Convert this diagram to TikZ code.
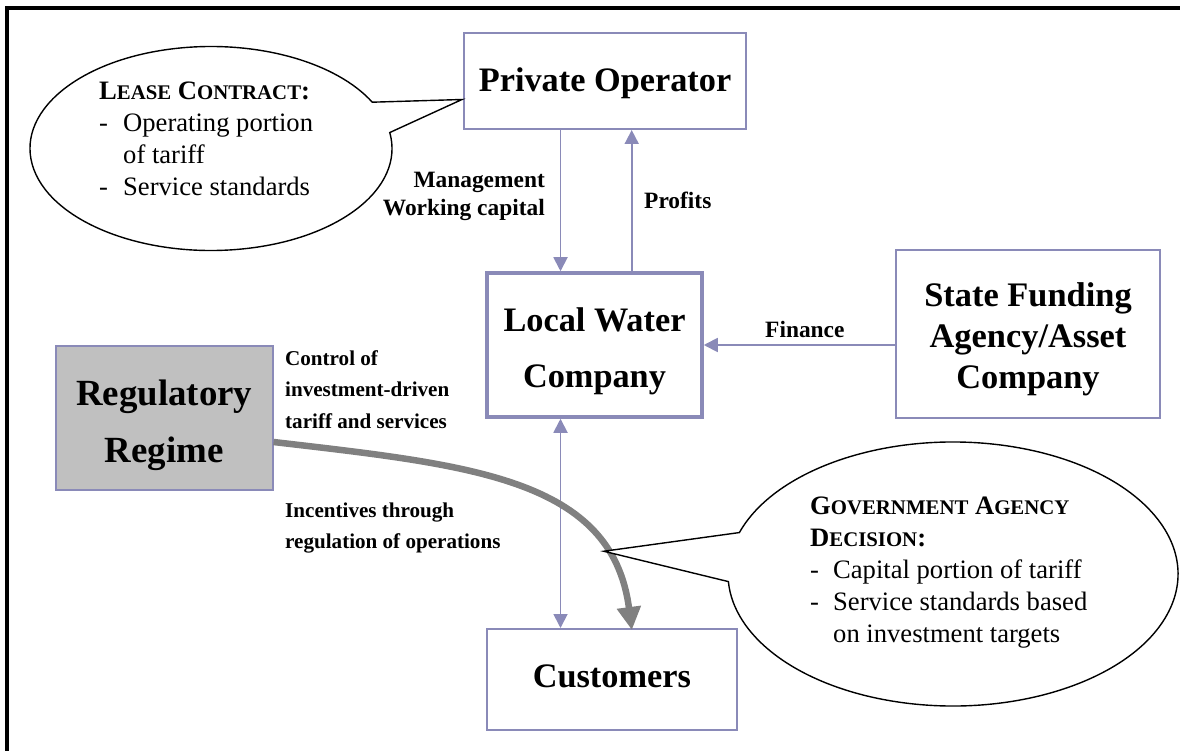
\documentclass[tikz,border=0pt]{standalone}
\usepackage{fontspec}
\setmainfont{Liberation Serif}
\usetikzlibrary{arrows.meta,calc}

\definecolor{lav}{RGB}{138,138,184}
\definecolor{regfill}{RGB}{192,192,192}
\definecolor{regflow}{RGB}{128,128,128}

% fake small capitals for the callout headings
\newcommand\smc[1]{{\fontsize{20.8}{20.8}\selectfont #1}}

\begin{document}
\begin{tikzpicture}[x=1pt,y=-1pt,
  box/.style={draw=lav, line width=2pt, fill=white, inner sep=0pt},
  boxtext/.style={anchor=base, inner sep=0pt, font=\bfseries\fontsize{34.3}{34.3}\selectfont},
  flow/.style={draw=lav, line width=1.8pt, -{Triangle[length=14pt,width=14pt]}},
  twoway/.style={draw=lav, line width=1.8pt, {Triangle[length=14pt,width=14pt]}-{Triangle[length=14pt,width=14pt]}},
  thick flow/.style={draw=regflow, line width=6.5pt, -{Triangle[length=23pt,width=23pt]}},
  flowlabel/.style={inner sep=0pt, font=\bfseries\fontsize{23.4}{27.5}\selectfont},
  smalllabel/.style={inner sep=0pt, font=\bfseries\fontsize{21.1}{31.5}\selectfont},
  callout/.style={draw=black, line width=1.4pt, fill=white},
  callouttext/.style={anchor=base west, inner sep=0pt, font=\fontsize{26.6}{32}\selectfont}
]
\useasboundingbox (0,0) rectangle (1180,751);

% page frame (left and top rules)
\draw[line width=4pt] (6.5,751) -- (6.5,8) -- (1180,8);

% boxes
\node[box, minimum width=282pt, minimum height=96pt] (po) at (605,81) {};
\node[box, line width=3.5pt, minimum width=215pt, minimum height=144pt] (lw) at (594.5,345) {};
\node[box, minimum width=264pt, minimum height=167.5pt] (sf) at (1028,333.75) {};
\node[box, fill=regfill, minimum width=216.5pt, minimum height=144pt] (reg) at (164.25,418) {};
\node[box, minimum width=249.7pt, minimum height=101pt] (cu) at (611.85,679.5) {};

% box captions
\node[boxtext] (po-t) at (605,91.5) {Private Operator};
\node[boxtext, font=\bfseries\fontsize{34.3}{56}\selectfont] (lw-t) at (594.5,331.5)
  {\begin{tabular}[t]{@{}c@{}}Local Water\\Company\end{tabular}};
\node[boxtext, font=\bfseries\fontsize{34.4}{41}\selectfont] (sf-t) at (1028,306.5)
  {\begin{tabular}[t]{@{}c@{}}State Funding\\Agency/Asset\\Company\end{tabular}};
\node[boxtext, font=\bfseries\fontsize{36.9}{57}\selectfont] (reg-t) at (164.25,405.5)
  {\begin{tabular}[t]{@{}c@{}}Regulatory\\Regime\end{tabular}};
\node[boxtext] (cu-t) at (611.85,687) {Customers};

% flows between the parties
\coordinate (down) at (560.5,0);
\coordinate (up) at (631.7,0);
\draw[flow] (down |- po.south) -- (down |- lw.north);
\draw[flow] (up |- lw.north) -- (up |- po.south);
\draw[flow] (sf.west |- lw.east) -- (lw.east);
\draw[twoway] (down |- lw.south) -- (down |- cu.north);

% regulatory influence on customers
\draw[thick flow] ([yshift=-24pt]reg.east) .. controls (470,465) and (612,478) .. ([xshift=20pt,yshift=-2pt]cu.north)
  coordinate[pos=0.79] (gtip);

% flow labels
\node[flowlabel, anchor=base east] (mgmt-l) at (545,188)
  {\begin{tabular}[t]{@{}r@{}}Management\\Working capital\end{tabular}};
\node[flowlabel, anchor=base west] (prof-l) at (644,208.5) {Profits};
\node[flowlabel, anchor=base west] (fin-l) at (765,337.5) {Finance};
\node[smalllabel, anchor=base west] (ctrl-l) at (285,365)
  {\begin{tabular}[t]{@{}l@{}}Control of\\investment-driven\\tariff and services\end{tabular}};
\node[smalllabel, anchor=base west] (inc-l) at (285,517)
  {\begin{tabular}[t]{@{}l@{}}Incentives through\\regulation of operations\end{tabular}};

% lease contract callout
\coordinate (lease) at (211,148.5);
\draw[callout] (lease) ++(-9:181 and 102)
  arc[start angle=-9, end angle=333, x radius=181, y radius=102]
  -- ([xshift=-1pt,yshift=-18.5pt]po.west) -- cycle;
\node[callouttext] (lease-t) at (99,99.5)
  {\begin{tabular}[t]{@{}p{24pt}@{}l@{}}
   \multicolumn{2}{@{}l@{}}{\textbf{L\smc{EASE} C\smc{ONTRACT}:}}\\
   -&Operating portion\\
    &of tariff\\
   -&Service standards
   \end{tabular}};

% government agency callout
\coordinate (gov) at (953,574);
\draw[callout] (gov) ++(198.3:225 and 132)
  arc[start angle=198.3, end angle=536.7, x radius=225, y radius=132]
  -- (gtip) -- cycle;
\node[callouttext] (gov-t) at (810,514.5)
  {\begin{tabular}[t]{@{}p{23pt}@{}l@{}}
   \multicolumn{2}{@{}l@{}}{\textbf{G\smc{OVERNMENT} A\smc{GENCY}}}\\
   \multicolumn{2}{@{}l@{}}{\textbf{D\smc{ECISION}:}}\\
   -&Capital portion of tariff\\
   -&Service standards based\\
    &on investment targets
   \end{tabular}};
\end{tikzpicture}
\end{document}
